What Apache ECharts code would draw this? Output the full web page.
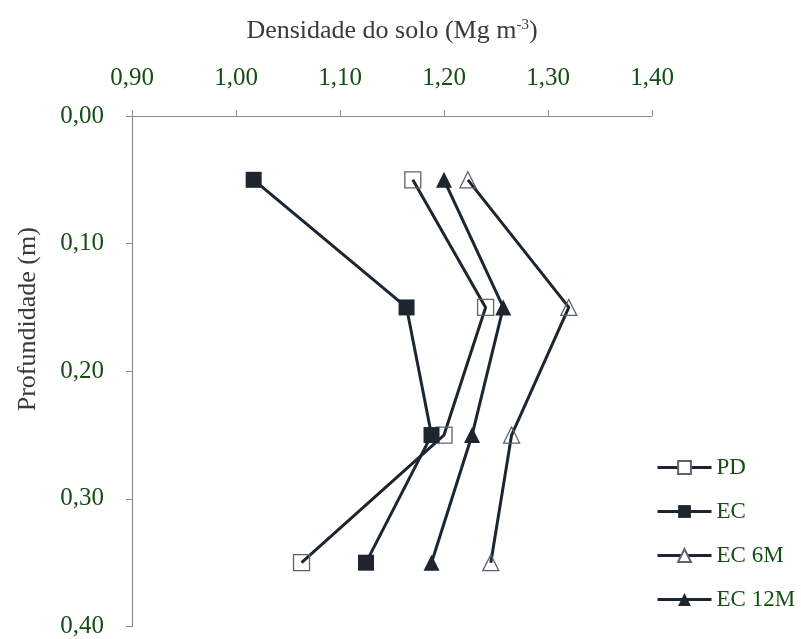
<!DOCTYPE html>
<html>
<head>
<meta charset="utf-8">
<script src="https://cdn.jsdelivr.net/npm/echarts@6/dist/echarts.min.js"></script>
<style>
  html, body { margin: 0; padding: 0; background: #fff; }
  #chart { width: 801px; height: 639px; }
</style>
</head>
<body>
<div id="chart"></div>
<script>
// Soil bulk density (Mg m-3) by depth (m) for four management systems
const depths = [0.05, 0.15, 0.25, 0.35];
const seriesNames = ['PD', 'EC', 'EC 6M', 'EC 12M'];
const densPD = [1.170, 1.240, 1.200, 1.063];
const densEC = [1.017, 1.164, 1.188, 1.125];
const densEC6M = [1.223, 1.320, 1.265, 1.245];
const densEC12M = [1.200, 1.257, 1.227, 1.188];
const xTicks = [0.9, 1.0, 1.1, 1.2, 1.3, 1.4];
const yTicks = [0.0, 0.1, 0.2, 0.3, 0.4];

const LINE = '#1c2530';
const OPEN_BORDER = '#5c636b';
const GREEN = '#154d15';
const NAME_GREY = '#3a3a3a';
const SERIF = '"Liberation Serif", "DejaVu Serif", serif';

const pairs = vals => vals.map((v, i) => [v, depths[i]]);
const comma = v => v.toFixed(2).replace('.', ',');

function makeSeries(name, vals, symbol, filled) {
  return {
    name: name,
    type: 'line',
    data: pairs(vals),
    symbol: symbol,
    symbolSize: 16,
    showAllSymbol: true,
    lineStyle: { color: LINE, width: 3 },
    itemStyle: filled
      ? { color: LINE, borderColor: LINE, borderWidth: 0 }
      : { color: 'rgba(255,255,255,0)', borderColor: OPEN_BORDER, borderWidth: 1.3 },
    emphasis: { disabled: true },
    z: 2
  };
}

const chart = echarts.init(document.getElementById('chart'), null, { renderer: 'canvas' });

chart.setOption({
  animation: false,
  backgroundColor: '#fff',
  grid: { left: 132, right: 149, top: 116, bottom: 9, containLabel: false },
  xAxis: {
    type: 'value',
    position: 'top',
    min: xTicks[0],
    max: xTicks[xTicks.length - 1],
    interval: 0.1,
    name: '{a|Densidade do solo (Mg m}{s|-3}{a|)}',
    nameLocation: 'middle',
    nameGap: 71,
    nameTextStyle: {
      rich: {
        a: { fontFamily: SERIF, fontSize: 26, color: NAME_GREY },
        s: { fontFamily: SERIF, fontSize: 15, color: NAME_GREY, verticalAlign: 'top', padding: [0, 0, 12, 0] }
      }
    },
    axisLine: { show: true, lineStyle: { color: '#8c8c8c', width: 1.2 } },
    axisTick: { show: true, inside: false, length: 6, lineStyle: { color: '#8c8c8c' } },
    splitLine: { show: false },
    axisLabel: {
      margin: 25,
      fontFamily: SERIF,
      fontSize: 25,
      color: GREEN,
      formatter: v => comma(v)
    }
  },
  yAxis: {
    type: 'value',
    inverse: true,
    min: yTicks[0],
    max: yTicks[yTicks.length - 1],
    interval: 0.1,
    name: 'Profundidade (m)',
    nameLocation: 'middle',
    nameGap: 91,
    nameRotate: 90,
    nameTextStyle: {
      fontFamily: SERIF, fontSize: 26, color: NAME_GREY,
      padding: [0, 0, 0, 104]
    },
    axisLine: { show: true, lineStyle: { color: '#8c8c8c', width: 1.2 } },
    axisTick: { show: true, inside: false, length: 6, lineStyle: { color: '#8c8c8c' } },
    splitLine: { show: false },
    axisLabel: {
      margin: 28,
      fontFamily: SERIF,
      fontSize: 25,
      color: GREEN,
      formatter: v => comma(v)
    }
  },
  legend: {
    orient: 'vertical',
    left: 651,
    top: 451,
    itemWidth: 54,
    itemHeight: 16,
    itemGap: 21,
    lineStyle: { width: 3 },
    textStyle: { fontFamily: SERIF, fontSize: 23, color: GREEN, lineHeight: 23 },
    data: [
      { name: 'PD', itemStyle: { color: '#fff' } },
      { name: 'EC' },
      { name: 'EC 6M', itemStyle: { color: '#fff' } },
      { name: 'EC 12M' }
    ]
  },
  series: [
    makeSeries(seriesNames[0], densPD, 'rect', false),
    makeSeries(seriesNames[1], densEC, 'rect', true),
    makeSeries(seriesNames[2], densEC6M, 'triangle', false),
    makeSeries(seriesNames[3], densEC12M, 'triangle', true)
  ]
});
</script>
</body>
</html>
